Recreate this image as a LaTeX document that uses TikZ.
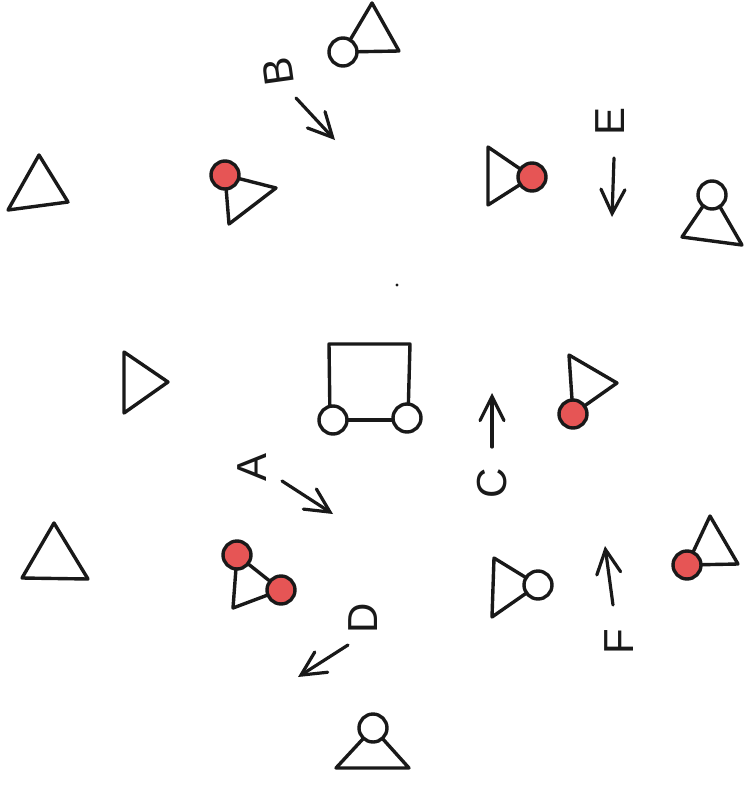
\documentclass[tikz,border=0pt]{standalone}
\usepackage{fontspec}
\setsansfont{Liberation Sans}
\usetikzlibrary{arrows.meta}
\definecolor{ink}{RGB}{25,25,25}
\definecolor{redfill}{RGB}{230,85,85}
\begin{document}
\begin{tikzpicture}[x=1pt,y=-1pt, line join=round, line cap=round,
  outline/.style={draw=ink, line width=3.4pt, line join=round},
  wcirc/.style={circle, draw=ink, fill=white, line width=3.4pt, minimum size=28pt, inner sep=0pt},
  rcirc/.style={wcirc, fill=redfill},
  lbl/.style={font=\sffamily\fontsize{42}{42}\selectfont, text=ink, rotate=90, inner sep=0pt},
  arr/.style={draw=ink, line width=3.2pt, line cap=round, -{Straight Barb[length=24pt,width=24pt,line cap=round]}}]
\fill[white] (0,0) rectangle (747,787);
\useasboundingbox (0,0) rectangle (747,787);

% top: white circle + triangle
\draw[outline] (343,52) -- (372,3) -- (399,51) -- cycle;
\node[wcirc] (t1) at (343,52) {};

% top-left red
\draw[outline] (225,175) -- (276,188) -- (229,224) -- cycle;
\node[rcirc] (t2) at (225,175) {};

% top-right red
\draw[outline] (488,147) -- (532,177) -- (488,205) -- cycle;
\node[rcirc] (t3) at (532,177) {};

% right top white
\draw[outline] (712,193) -- (742,245) -- (682,237) -- cycle;
\node[wcirc] (t4) at (712,195) {};

% left triangles
\draw[outline] (39,155) -- (68,202) -- (8,210) -- cycle;
\draw[outline] (124,352) -- (168,382) -- (124,413) -- cycle;
\draw[outline] (54,523) -- (88,579) -- (22,578) -- cycle;

% square with two circles
\draw[outline] (330,420) -- (329,344) -- (410,344) -- (408,418);
\draw[outline] (333,420) -- (407,420);
\node[wcirc] (s1) at (333,420) {};
\node[wcirc] (s2) at (407,418) {};

% middle right red
\draw[outline] (569,355) -- (617,383) -- (573,414) -- cycle;
\node[rcirc] (t5) at (573,414) {};

% bottom-left two red
\draw[outline] (237,555) -- (281,590) -- (233,608) -- cycle;
\node[rcirc] (t6) at (237,555) {};
\node[rcirc] (t7) at (281,590) {};

% bottom-middle white
\draw[outline] (494,558) -- (538,585) -- (492,617) -- cycle;
\node[wcirc] (t8) at (538,585) {};

% right bottom red
\draw[outline] (687,565) -- (710,516) -- (738,564) -- cycle;
\node[rcirc] (t9) at (687,565) {};

% bottom white
\draw[outline] (373,728) -- (409,768) -- (336,768) -- cycle;
\node[wcirc] (t10) at (373,728) {};

% dot
\fill[ink] (397,285) circle (1.6);

% arrows
\coordinate (bS) at (296,98);  \coordinate (bE) at (335,140);
\coordinate (eS) at (614,158); \coordinate (eE) at (612,217);
\coordinate (aS) at (282,481); \coordinate (aE) at (333,514);
\coordinate (cS) at (492,447); \coordinate (cE) at (492,393);
\coordinate (dS) at (348,645); \coordinate (dE) at (298,677);
\coordinate (fS) at (613,605); \coordinate (fE) at (605,546);
\draw[arr] (bS) -- (bE);
\draw[arr] (eS) -- (eE);
\draw[arr] (aS) -- (aE);
\draw[arr] (cS) -- (cE);
\draw[arr] (dS) -- (dE);
\draw[arr] (fS) -- (fE);

% labels
\node[lbl, rotate=8] (lB) at (278,72) {B};
\node[lbl] (lE) at (610,121) {E};
\node[lbl] (lA) at (252,467) {A};
\node[lbl] (lC) at (492,483) {C};
\node[lbl] (lD) at (363,618) {D};
\node[lbl] (lF) at (619,642) {F};
\end{tikzpicture}
\end{document}
